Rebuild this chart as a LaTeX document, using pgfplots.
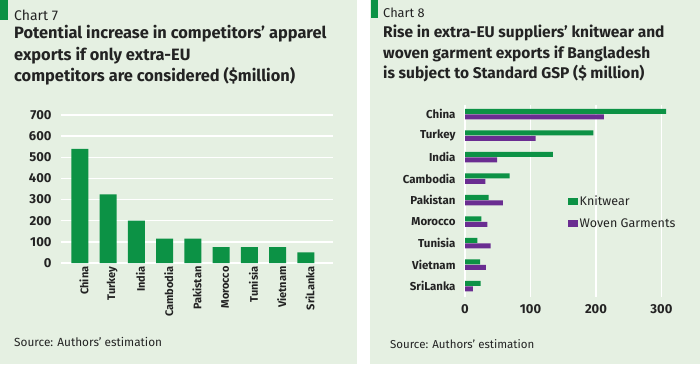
\documentclass[border=0pt]{standalone}
\usepackage{fontspec}
\setmainfont{Fira Sans}
\usepackage{pgfplots}
\pgfplotsset{compat=1.18}
\definecolor{bg}{RGB}{229,240,226}
\definecolor{ecgreen}{RGB}{12,146,69}
\definecolor{ecpurple}{RGB}{106,45,145}
\definecolor{txt}{RGB}{35,35,35}
\begin{document}
\begin{tikzpicture}[x=1pt,y=1pt]
\fill[white] (0,0) rectangle (700,364);
\fill[bg] (0,0) rectangle (357,364);
\fill[bg] (370,0) rectangle (700,364);
\fill[ecgreen] (0,364) rectangle (8,344);
\fill[ecgreen] (371,364) rectangle (378,346);
% left titles
\node[anchor=base west, inner sep=0, font=\fontsize{14}{16}\selectfont, text=txt] at (14,343) {Chart 7};
\node[anchor=base west, inner sep=0, font=\bfseries\fontsize{16.4}{18}\selectfont, text=txt] at (14,325) {Potential increase in competitors' apparel};
\node[anchor=base west, inner sep=0, font=\bfseries\fontsize{16.4}{18}\selectfont, text=txt] at (14,303.5) {exports if only extra-EU};
\node[anchor=base west, inner sep=0, font=\bfseries\fontsize{16.4}{18}\selectfont, text=txt] at (14,282) {competitors are considered (\$million)};
% right titles
\node[anchor=base west, inner sep=0, font=\fontsize{12.8}{16}\selectfont, text=txt] at (383,346) {Chart 8};
\node[anchor=base west, inner sep=0, font=\bfseries\fontsize{15.5}{18}\selectfont, text=txt] at (383,326) {Rise in extra-EU suppliers' knitwear and};
\node[anchor=base west, inner sep=0, font=\bfseries\fontsize{15.5}{18}\selectfont, text=txt] at (383,305.5) {woven garment exports if Bangladesh};
\node[anchor=base west, inner sep=0, font=\bfseries\fontsize{15.5}{18}\selectfont, text=txt] at (383,285) {is subject to Standard GSP (\$ million)};
% sources
\node[anchor=base west, inner sep=0, font=\fontsize{11.8}{13}\selectfont, text=txt] at (14,18) {Source: Authors’ estimation};
\node[anchor=base west, inner sep=0, font=\fontsize{11.5}{13}\selectfont, text=txt] at (390,16) {Source: Authors’ estimation};

\begin{axis}[
  at={(61pt,101pt)}, anchor=south west,
  scale only axis, width=272pt, height=148pt,
  xmin=-0.67, xmax=8.96, ymin=0, ymax=700,
  axis line style={draw=none},
  ymajorgrids, grid style={white, line width=1.5pt},
  ytick={0,100,...,700},
  xtick={0,...,8},
  xticklabels={China,Turkey,India,Cambodia,Pakistan,Morocco,Tunisia,Vietnam,SriLanka},
  /pgf/number format/assume math mode=true,
  yticklabel style={font=\bfseries\fontsize{13}{14}\selectfont, text=txt, xshift=-6pt},
  xticklabel style={font=\bfseries\fontsize{11}{13}\selectfont, text=txt, rotate=90, anchor=east, yshift=-4pt},
  major tick length=0pt, tick style={draw=none},
]
\addplot[ybar, bar width=17pt, fill=ecgreen, draw=none] coordinates {
(0,540) (1,325) (2,200) (3,115) (4,115) (5,75) (6,75) (7,75) (8,50)};
\end{axis}

\begin{axis}[
  at={(465pt,67pt)}, anchor=south west,
  scale only axis, width=203pt, height=192pt,
  xmin=0, xmax=310, ymin=-0.51, ymax=8.42,
  axis line style={draw=none},
  xmajorgrids, grid style={white, line width=1.5pt},
  xtick={0,100,200,300},
  ytick={0,...,8},
  yticklabels={SriLanka,Vietnam,Tunisia,Morocco,Pakistan,Cambodia,India,Turkey,China},
  /pgf/number format/assume math mode=true,
  xticklabel style={font=\bfseries\fontsize{13}{14}\selectfont, text=txt, yshift=-4pt},
  yticklabel style={font=\bfseries\fontsize{11.5}{14}\selectfont, text=txt, xshift=-6pt},
  major tick length=0pt, tick style={draw=none},
  legend style={draw=none, fill=none, at={(0.49,0.55)}, anchor=north west,
    row sep=8pt, font=\fontsize{12.5}{14}\selectfont, text=txt, cells={anchor=west}},
  legend image code/.code={\fill[#1] (0pt,-3.5pt) rectangle (10pt,3.5pt);},
]
\addplot[xbar, bar width=5pt, bar shift=2.75pt, fill=ecgreen, draw=none] coordinates {
(24,0) (23,1) (19,2) (25,3) (36,4) (68,5) (134,6) (196,7) (307,8)};
\addplot[xbar, bar width=5pt, bar shift=-2.75pt, fill=ecpurple, draw=none] coordinates {
(12,0) (32,1) (39,2) (34,3) (58,4) (31,5) (49,6) (108,7) (212,8)};
\legend{Knitwear, Woven Garments}
\end{axis}
\end{tikzpicture}
\end{document}
